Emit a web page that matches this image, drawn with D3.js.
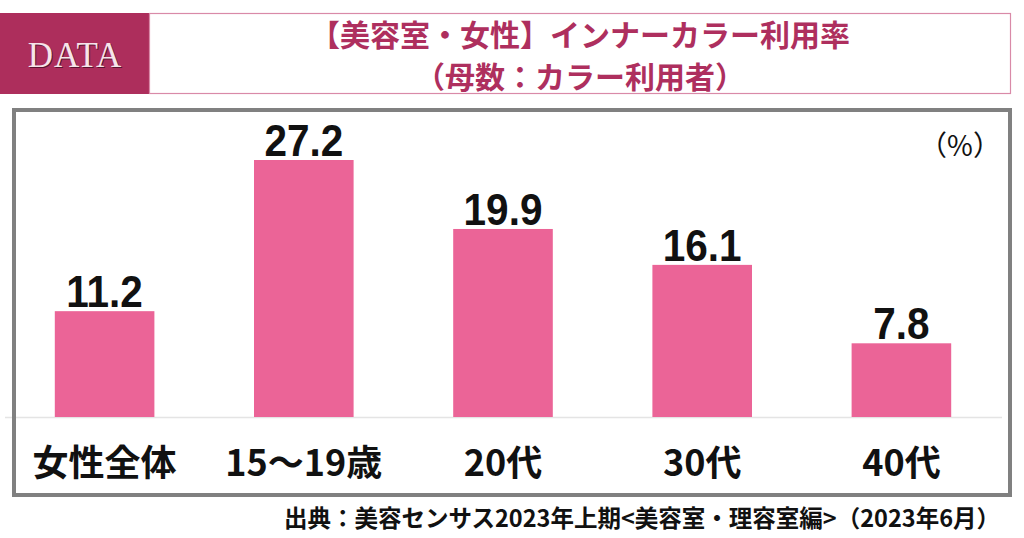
<!DOCTYPE html>
<html><head><meta charset="utf-8">
<script src="https://cdn.jsdelivr.net/npm/d3@7"></script>
<style>body{margin:0;background:#fff}svg{display:block}</style>
</head><body>
<script>
const categories = ["女性全体", "15～19歳", "20代", "30代", "40代"];
const values = [11.2, 27.2, 19.9, 16.1, 7.8];
const titleLines = ["【美容室・女性】インナーカラー利用率", "（母数：カラー利用者）"];
const unitLabel = "（%）";
const sourceText = "出典：美容センサス2023年上期<美容室・理容室編>（2023年6月）";

const W = 1024, H = 538;
const svg = d3.select("body").append("svg").attr("width", W).attr("height", H);
const jp = "'Noto Sans CJK JP','Noto Sans',sans-serif";

// header
svg.append("rect").attr("x", 0).attr("y", 13).attr("width", 149).attr("height", 81).attr("fill", "#ad2e5c");
svg.append("text").attr("x", 75).attr("y", 67).attr("text-anchor", "middle")
  .attr("font-family", "'Liberation Serif',serif").attr("font-size", 35).attr("letter-spacing", 1)
  .attr("fill", "#f6e4ea").style("text-shadow", "1px 1px 0 #5a1530").text("DATA");
svg.append("rect").attr("x", 149.5).attr("y", 13.5).attr("width", 861).attr("height", 80)
  .attr("fill", "none").attr("stroke", "#d98aa8").attr("stroke-width", 1.2);
svg.selectAll("text.title").data(titleLines).join("text").attr("class", "title")
  .attr("x", 580).attr("y", (d, i) => i === 0 ? 46 : 88).attr("text-anchor", "middle")
  .attr("font-family", jp).attr("font-weight", 700).attr("font-size", 30)
  .attr("fill", "#ae2f5e").text(d => d);

// chart
const x = d3.scaleBand().domain(categories).range([5, 1001]).paddingInner(0.5).paddingOuter(0.25);
const y = d3.scaleLinear().domain([0, 27.2]).range([417, 160]);

svg.append("line").attr("x1", 5).attr("x2", 1002).attr("y1", 417.5).attr("y2", 417.5)
  .attr("stroke", "#e4e4e4").attr("stroke-width", 1.5);

svg.selectAll("rect.bar").data(values).join("rect").attr("class", "bar")
  .attr("x", (d, i) => x(categories[i])).attr("width", x.bandwidth())
  .attr("y", d => y(d)).attr("height", d => y(0) - y(d)).attr("fill", "#eb6497");

svg.selectAll("text.val").data(values).join("text").attr("class", "val")
  .attr("transform", (d, i) => `translate(${x(categories[i]) + x.bandwidth() / 2},${y(d) - 4}) scale(0.9,1)`)
  .attr("text-anchor", "middle").attr("font-family", "'Liberation Sans',Arial,sans-serif")
  .attr("font-weight", 700).attr("font-size", 45).attr("fill", "#111").text(d => d.toFixed(1));

const xAxis = svg.append("g").attr("transform", "translate(0,417)")
  .call(d3.axisBottom(x).tickSize(0).tickPadding(0));
xAxis.select(".domain").remove();
xAxis.selectAll("text").attr("y", 59).attr("dy", 0)
  .attr("font-family", jp).attr("font-weight", 700).attr("font-size", 36).attr("fill", "#111");

svg.append("text").attr("x", 960).attr("y", 156).attr("text-anchor", "middle")
  .attr("font-family", jp).attr("font-size", 28).attr("fill", "#111").text(unitLabel);

svg.append("rect").attr("x", 14).attr("y", 110).attr("width", 996).attr("height", 385)
  .attr("fill", "none").attr("stroke", "#808080").attr("stroke-width", 4);

svg.append("text").attr("x", 1000).attr("y", 527).attr("text-anchor", "end")
  .attr("font-family", jp).attr("font-weight", 700).attr("font-size", 23.5).attr("fill", "#111").text(sourceText);
</script>
</body></html>
